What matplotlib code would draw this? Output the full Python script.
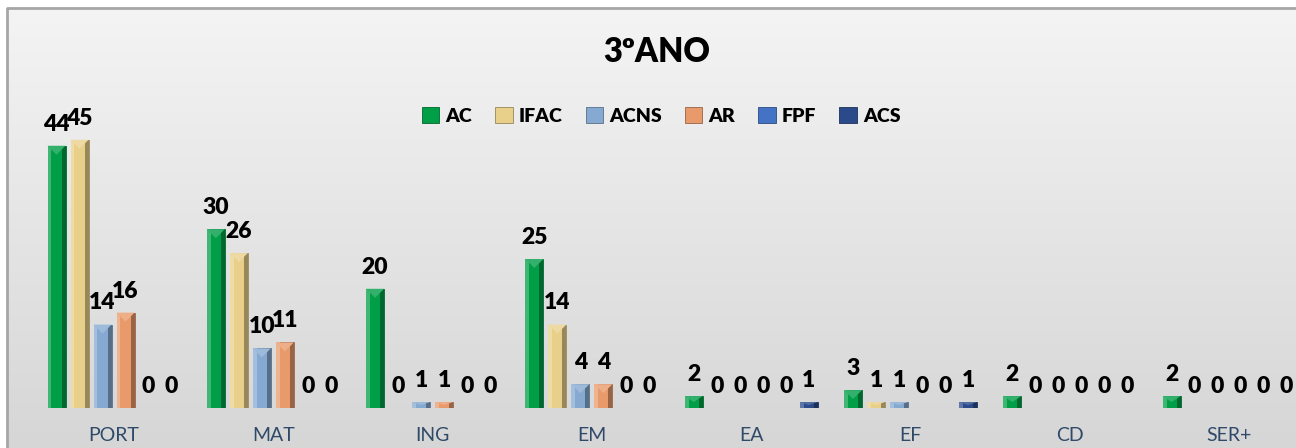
import matplotlib
matplotlib.use("Agg")
import matplotlib.pyplot as plt
import numpy as np
from matplotlib.colors import to_rgb
from matplotlib.patches import Polygon, Rectangle

categories = ["PORT", "MAT", "ING", "EM", "EA", "EF", "CD", "SER+"]
series = ["AC", "IFAC", "ACNS", "AR", "FPF", "ACS"]
ac = [44, 30, 20, 25, 2, 3, 2, 2]
ifac = [45, 26, 0, 14, 0, 1, 0, 0]
acns = [14, 10, 1, 4, 0, 1, 0, 0]
ar = [16, 11, 1, 4, 0, 0, 0, 0]
fpf = [0, 0, 0, 0, 0, 0, 0, 0]
acs = [0, 0, 0, 0, 1, 1, 0, 0]
values = [ac, ifac, acns, ar, fpf, acs]
colors = ["#009e47", "#e8d08a", "#86a9d1", "#e89a6a", "#4472c4", "#2a4a8a"]

plt.rcParams["font.family"] = ["Lato", "DejaVu Sans"]


def mix(c, other, t):
    c = np.array(to_rgb(c))
    return tuple(c * (1 - t) + np.array(other) * t)


W, H = 1296, 448
fig = plt.figure(figsize=(W / 100, H / 100), dpi=100)

# background with border and soft gradient
bg = fig.add_axes([0, 0, 1, 1], zorder=-2)
bg.set_xlim(0, W)
bg.set_ylim(H, 0)
bg.axis("off")
grad = np.linspace(0, 1, 256)[:, None]
top_c = np.array(to_rgb("#f4f4f4"))
bot_c = np.array(to_rgb("#d6d6d6"))
img = top_c[None, None, :] * (1 - grad[:, :, None]) + bot_c[None, None, :] * grad[:, :, None]
bg.imshow(img, extent=[7, W, H, 8], aspect="auto")
bg.plot([7, 7, W], [H, 8, 8], color="#a6a6a6", lw=2)

# plot area: baseline at y=408px, 5.96 px per unit, category pitch 159.3 px
px_unit = 5.96
base = 40
top_px = 100
ax = fig.add_axes([0, base / H, 1, (H - base - top_px) / H])
ax.patch.set_alpha(0)
pitch = 159.3
first = 114
ax.set_xlim((0 - first) / pitch, (W - first) / pitch)
ax.set_ylim(0, (H - base - top_px) / px_unit)
for s in ax.spines.values():
    s.set_visible(False)
ax.set_yticks([])

x = np.arange(len(categories))
step = 23 / pitch
bw = 18 / pitch
bevel_y = 9 / px_unit

handles = []
for k, (name, vals, col) in enumerate(zip(series, values, colors)):
    pos = x + (k - 2.5) * step
    bars = ax.bar(pos, vals, bw, color=col, edgecolor=mix(col, (0, 0, 0), 0.35),
                  linewidth=0.6, label=name, zorder=2)
    handles.append(bars)
    for rect, v in zip(bars, vals):
        if v > 0:
            x0 = rect.get_x()
            w = rect.get_width()
            h = rect.get_height()
            e = w * 0.22
            ax.add_patch(Rectangle((x0, 0), e, h, color=mix(col, (1, 1, 1), 0.25), lw=0, zorder=3))
            ax.add_patch(Rectangle((x0 + w - e, 0), e, h, color=mix(col, (0, 0, 0), 0.35), lw=0, zorder=3))
            d = min(bevel_y, h / 2)
            ax.add_patch(Polygon([(x0, h), (x0 + w, h), (x0 + w / 2, h - d)],
                                 closed=True, color=mix(col, (1, 1, 1), 0.2), lw=0, zorder=4))
        ax.annotate(str(v), (rect.get_x() + rect.get_width() / 2, rect.get_height()),
                    xytext=(0, 8), textcoords="offset points", ha="center", va="bottom",
                    fontsize=16.5, fontweight="heavy", color="black", zorder=5,
                    annotation_clip=False)

ax.set_xticks(x)
ax.set_xticklabels(categories, fontsize=14, color="#2f4a68")
ax.tick_params(axis="x", length=0, pad=14)

fig.text(657 / W, 1 - 52 / H, "3ºANO", ha="center", va="center",
         fontsize=23.5, fontweight="heavy")

fig.legend(handles=handles, loc="center", bbox_to_anchor=(661 / W, 1 - 116 / H),
           ncol=6, frameon=False, prop={"weight": "heavy", "size": 14},
           handlelength=0.9, handleheight=0.9, handletextpad=0.3, columnspacing=1.2)

fig.savefig("out.png", dpi=100)
